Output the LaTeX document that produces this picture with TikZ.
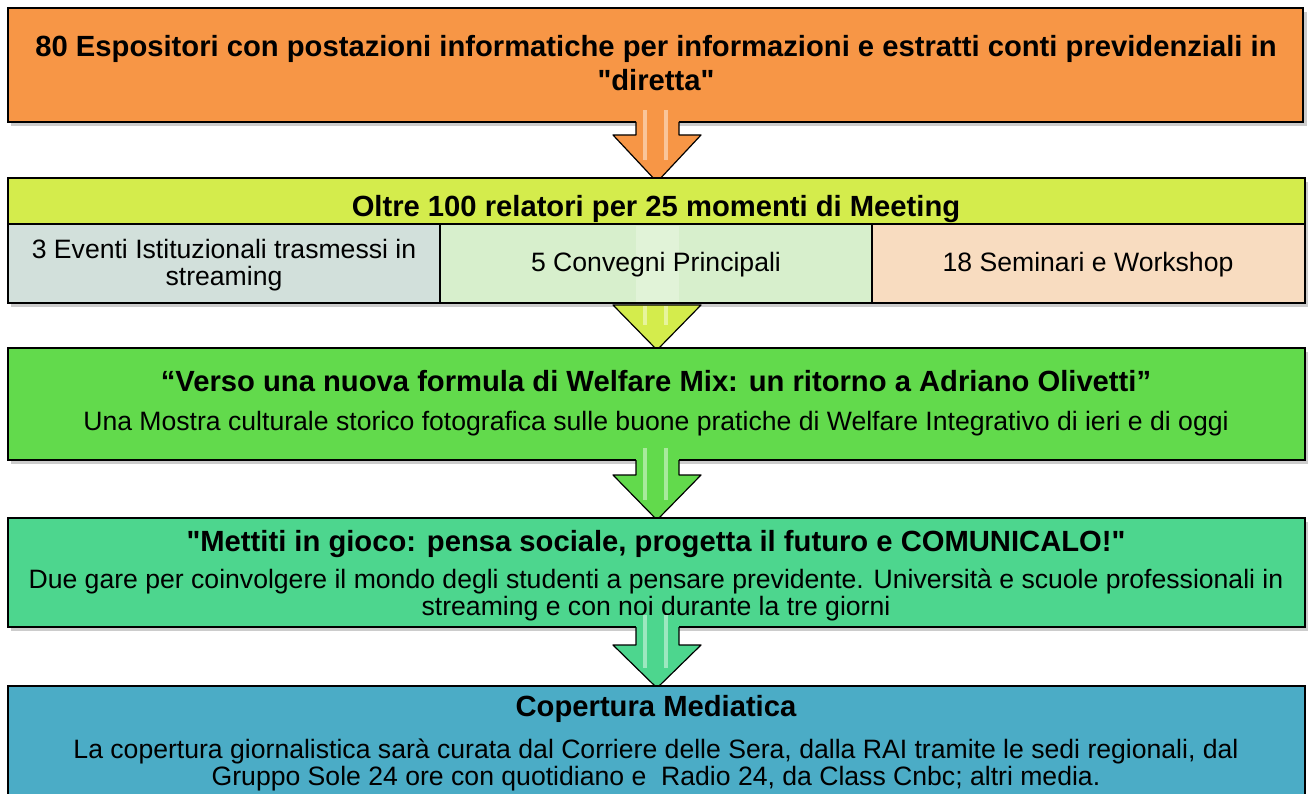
\documentclass[tikz,border=0pt]{standalone}
\usepackage{fontspec}
\setmainfont{Liberation Sans}
\begin{document}
\begin{tikzpicture}[x=1pt,y=-1pt,
  box/.style={draw=black,line width=1.2pt},
  ttl/.style={font=\fontsize{29.2}{34}\selectfont\bfseries,align=center,inner sep=0pt},
  txt/.style={font=\fontsize{26.6}{26.5}\selectfont,align=center,inner sep=0pt},
  arr/.style={draw=black,line width=1.2pt,line join=round},
  gloss/.style={fill=white,opacity=0.45}]
\definecolor{cOrange}{HTML}{F79646}
\definecolor{cYG}{HTML}{D4EC4C}
\definecolor{cSubA}{HTML}{D2E0DB}
\definecolor{cSubB}{HTML}{D7EFCC}
\definecolor{cSubC}{HTML}{F8DCC0}
\definecolor{cGreen}{HTML}{62DA4C}
\definecolor{cSea}{HTML}{4DD68E}
\definecolor{cBlue}{HTML}{4BACC6}
\useasboundingbox (0,0) rectangle (1308,794);
\clip (0,0) rectangle (1308,794);
% box 1
\fill[black!20] (11,12) rectangle (1307,126);
\draw[box,fill=cOrange] (8,8) rectangle (1303,122);
\node[ttl] (t1) at (656,63) {80 Espositori con postazioni informatiche per informazioni e estratti conti previdenziali in\\\textquotedbl diretta\textquotedbl};
% arrow 1
\fill[cOrange] (636,110) rectangle (679,123);
\draw[arr,fill=cOrange] (636,122) -- (636,135) -- (613,135) -- (657,182) -- (701,135) -- (679,135) -- (679,122);
\fill[gloss] (643,110) rectangle (647,160);
\fill[gloss] (664,110) rectangle (668,160);
% box 2
\fill[black!20] (11,182) rectangle (1309,307);
\draw[box,fill=cYG] (8,178) rectangle (1305,290);
\node[ttl] (t2) at (656,209) {Oltre 100 relatori per 25 momenti di Meeting};
\draw[box,fill=cSubA] (8,224) rectangle (440,303);
\draw[box,fill=cSubB] (440,224) rectangle (872,303);
\draw[box,fill=cSubC] (872,224) rectangle (1305,303);
\fill[white,opacity=0.25] (636,226) rectangle (679,302);
\node[txt] (s1) at (224,265) {3 Eventi Istituzionali trasmessi in\\streaming};
\node[txt] (s2) at (656,265) {5 Convegni Principali};
\node[txt] (s3) at (1088,265) {18 Seminari e Workshop};
% arrow 2
\draw[arr,fill=cYG] (613,305) -- (657,350) -- (701,305) -- cycle;
\fill[gloss] (643,306) rectangle (647,325);
\fill[gloss] (664,306) rectangle (668,325);
% box 3
\fill[black!20] (11,352) rectangle (1309,464);
\draw[box,fill=cGreen] (8,348) rectangle (1305,460);
\node[ttl] (t3) at (656,381) {“Verso una nuova formula di Welfare Mix: un ritorno a Adriano Olivetti”};
\node[txt] (d3) at (656,424) {Una Mostra culturale storico fotografica sulle buone pratiche di Welfare Integrativo di ieri e di oggi};
% arrow 3
\fill[cGreen] (636,448) rectangle (679,461);
\draw[arr,fill=cGreen] (636,460) -- (636,475) -- (613,475) -- (657,520) -- (701,475) -- (679,475) -- (679,460);
\fill[gloss] (643,448) rectangle (647,500);
\fill[gloss] (664,448) rectangle (668,500);
% box 4
\fill[black!20] (11,522) rectangle (1309,631);
\draw[box,fill=cSea] (8,518) rectangle (1305,627);
\node[ttl] (t4) at (656,544) {\textquotedbl Mettiti in gioco: pensa sociale, progetta il futuro e COMUNICALO!\textquotedbl};
\node[txt] (d4) at (656,595) {Due gare per coinvolgere il mondo degli studenti a pensare previdente. Università e scuole professionali in\\streaming e con noi durante la tre giorni};
% arrow 4
\fill[cSea] (636,615) rectangle (679,628);
\draw[arr,fill=cSea] (636,627) -- (636,645) -- (613,645) -- (657,688) -- (701,645) -- (679,645) -- (679,627);
\fill[gloss] (643,615) rectangle (647,668);
\fill[gloss] (664,615) rectangle (668,668);
% box 5
\draw[box,fill=cBlue] (8,686) rectangle (1305,800);
\node[ttl] (t5) at (656,709) {Copertura Mediatica};
\node[txt] (d5) at (656,765) {La copertura giornalistica sarà curata dal Corriere delle Sera, dalla RAI tramite le sedi regionali, dal\\Gruppo Sole 24 ore con quotidiano e\ \ Radio 24, da Class Cnbc; altri media.};
\end{tikzpicture}
\end{document}
